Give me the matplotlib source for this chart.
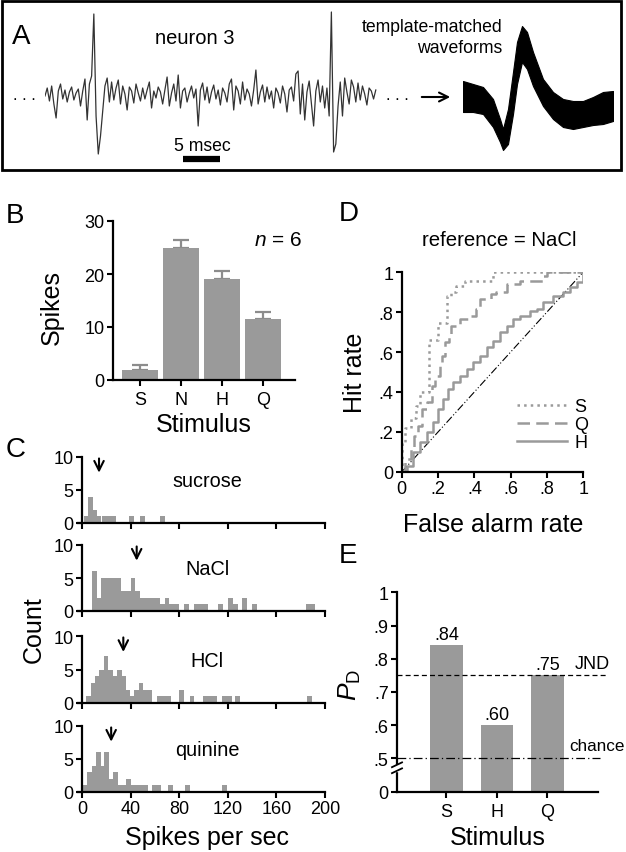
import numpy as np
import matplotlib
matplotlib.use('Agg')
import matplotlib.pyplot as plt
from matplotlib.patches import Rectangle

plt.rcParams['font.family'] = 'Liberation Sans'
plt.rcParams['mathtext.fontset'] = 'custom'
plt.rcParams['mathtext.it'] = 'Liberation Sans:italic'
plt.rcParams['mathtext.rm'] = 'Liberation Sans'

W, H = 626, 853
GRAY = '#9a9a9a'
TICK_FS = 13
LABEL_FS = 18

# ---- panel A: raw trace (arbitrary units, 0.3 ms per sample) ----
trace_uv = [0, 8, -5, 10, -8, -22, 5, 12, -3, 6,
            -6, 4, 9, -4, 3, 7, -10, 5, 17, -24,
            12, 20, 82, -20, -58, -40, -15, 10, 18, -6,
            14, -4, 8, 16, -8, 10, 2, -14, 9, 5,
            -7, 12, 3, -5, 8, -3, 6, 14, -12, 5,
            -2, 9, 4, -8, 6, 19, -10, 3, 12, -5,
            21, -12, 5, 8, -6, 3, 10, -2, 7, -30,
            6, 13, -4, 9, -7, 4, 11, -3, 6, -9,
            8, 3, -6, 12, 17, -14, 10, 5, -8, 14,
            -4, 7, 2, -10, 6, 26, -8, 4, 11, -6,
            9, -3, 5, -12, 8, 3, -7, 10, 2, -16,
            6, 9, -5, 22, 25, -18, 12, -24, 4, 15,
            -8, -30, 5, 16, -6, 10, -12, 8, -20, 84,
            -56, -48, -10, 14, -20, 18, 4, -8, 16, 9,
            -6, 13, -4, 10, 2, -9, 8, 5, -3, 6]
sample_ms = 0.3
scale_bar_ms = 5

# template-matched waveform envelope
wf_t = [0, 0.1, 0.2, 0.3, 0.37, 0.4, 0.45, 0.5, 0.54, 0.59, 0.64, 0.7,
        0.8, 0.9, 1.0, 1.1, 1.2, 1.3, 1.4, 1.5]
wf_hi = [16, 13, 10, -2, -22, -32, -12, 25, 55, 71, 65, 45, 18, 5, -2, -4, -4, 0, 5, 6]
wf_lo = [-15, -15, -17, -30, -45, -53, -47, -17, 13, 35, 28, 11, -9, -22, -30, -32,
         -30, -28, -27, -24]

# ---- panel B ----
stim_b = ['S', 'N', 'H', 'Q']
spikes_mean = [1.9, 25.0, 19.0, 11.6]
spikes_sem = [0.9, 1.5, 1.6, 1.2]

# ---- panel C: histograms (bin left edge in spikes/s, counts) ----
BIN_W = 4.0
hist_names = ['sucrose', 'NaCl', 'HCl', 'quinine']
sucrose_left = [2, 5.3, 8.6, 11.9, 16.2, 20.2, 23.9, 39, 48, 64.6]
sucrose_cnt = [1, 4, 2, 1, 1, 1, 1, 1, 1, 1]
nacl_left = [8, 12, 16, 20, 24, 28, 32, 36, 40, 44, 48, 52, 56, 60, 64, 68, 72, 76,
             84, 92, 96, 100, 112, 120, 124, 132, 140, 184, 188]
nacl_cnt = [6, 2, 5, 5, 5, 5, 3, 3, 5, 3, 2, 2, 2, 2, 1, 2, 1, 1,
            1, 1, 1, 1, 1, 2, 1, 2, 1, 1, 1]
hcl_left = [3.3, 7.0, 10.6, 14.2, 17.8, 21.4, 25.0, 28.6, 32.2, 35.8, 39.4, 43.0,
            46.6, 50.2, 53.8, 62.1, 65.7, 69.3, 80.2, 88.5, 99.5, 103.1, 107,
            115.2, 119.3, 126.2, 185.3]
hcl_cnt = [1, 3, 4, 5, 7, 5, 4, 5, 4, 2, 1, 2, 3, 2, 2, 1, 1, 1, 2, 1, 1, 1, 1,
           1, 1, 1, 1]
quin_left = [1.0, 4.5, 8.0, 11.5, 15.0, 18.5, 22.0, 25.5, 29.0, 32.5, 36.0, 39.5,
             43.0, 46.5, 50.0, 57.5, 61.0, 70.5, 84.5, 115.5]
quin_cnt = [1, 3, 4, 6, 4, 6, 2, 3, 1, 1, 2, 1, 1, 1, 1, 1, 1, 1, 1, 1]
hist_mean = [14, 45, 34, 24]

# ---- panel D: ROC curves vs NaCl ----
S_fa = [0, 0, 0.02, 0.02, 0.05, 0.05, 0.08, 0.08, 0.10, 0.10, 0.15, 0.15, 0.20,
        0.20, 0.25, 0.25, 0.27, 0.30, 0.35, 0.50, 0.50, 1.0]
S_hit = [0, 0.15, 0.15, 0.22, 0.22, 0.27, 0.27, 0.33, 0.33, 0.40, 0.40, 0.66, 0.66,
         0.745, 0.745, 0.88, 0.90, 0.93, 0.955, 0.955, 1.0, 1.0]
Q_fa = [0, 0.02, 0.05, 0.065, 0.09, 0.11, 0.14, 0.165, 0.185, 0.21, 0.22, 0.24,
        0.26, 0.27, 0.32, 0.37, 0.41, 0.43, 0.49, 0.52, 0.58, 0.65, 0.78, 0.80, 1.0]
Q_hit = [0, 0.065, 0.115, 0.18, 0.23, 0.315, 0.35, 0.43, 0.48, 0.53, 0.58, 0.65,
         0.68, 0.73, 0.765, 0.78, 0.815, 0.865, 0.89, 0.90, 0.94, 0.957, 0.98, 1.0, 1.0]
H_fa = [0, 0.028, 0.064, 0.101, 0.138, 0.174, 0.202, 0.23, 0.257, 0.284, 0.321, 0.358,
        0.395, 0.431, 0.468, 0.505, 0.541, 0.578, 0.615, 0.651, 0.706, 0.743, 0.78,
        0.835, 0.89, 0.927, 0.963, 1.0]
H_hit = [0, 0.032, 0.098, 0.148, 0.198, 0.248, 0.315, 0.365, 0.415, 0.448, 0.48,
         0.515, 0.548, 0.58, 0.623, 0.657, 0.698, 0.73, 0.765, 0.78, 0.807, 0.815,
         0.848, 0.88, 0.9, 0.923, 0.948, 1.0]

# ---- panel E ----
stim_e = ['S', 'H', 'Q']
pd_vals = [0.84, 0.60, 0.75]
jnd = 0.75
chance = 0.5

fig = plt.figure(figsize=(W / 100, H / 100), dpi=100)


def add_ax(x0, y0, x1, y1):
    ax = fig.add_axes([x0 / W, 1 - y1 / H, (x1 - x0) / W, (y1 - y0) / H])
    ax.patch.set_visible(False)
    return ax


def style(ax):
    for s in ['top', 'right']:
        ax.spines[s].set_visible(False)
    for s in ['left', 'bottom']:
        ax.spines[s].set_linewidth(1.6)
    ax.tick_params(direction='out', length=4, width=1.5, labelsize=TICK_FS, pad=2)


# overlay in pixel coordinates for frame and labels
ov = fig.add_axes([0, 0, 1, 1])
ov.set_xlim(0, W)
ov.set_ylim(H, 0)
ov.axis('off')
ov.set_zorder(10)
ov.add_patch(Rectangle((2, 2), 619, 169, fill=False, lw=2, ec='k'))
for lab, x, y in [('A', 21, 37), ('B', 15, 216), ('C', 16, 450), ('D', 349, 214), ('E', 348, 556)]:
    ov.text(x, y, lab, fontsize=20, ha='center', va='center')
ov.text(195, 38, 'neuron 3', fontsize=14.5, ha='center', va='center')
ov.text(502, 27, 'template-matched', fontsize=12.7, ha='right', va='center')
ov.text(502, 48, 'waveforms', fontsize=12.7, ha='right', va='center')
ov.text(24, 95, '. . .', fontsize=12, ha='center', va='center')
ov.text(397, 95, '. . .', fontsize=12, ha='center', va='center')
ov.annotate('', xy=(453, 98), xytext=(419, 98),
            arrowprops=dict(arrowstyle='->', lw=1.5, color='k', mutation_scale=16))
ov.text(202, 146, '5 msec', fontsize=12.7, ha='center', va='center')
ov.text(278, 240, r'$n$ = 6', fontsize=15, ha='center', va='center')
ov.text(52, 307, 'Spikes', fontsize=LABEL_FS, rotation=90, ha='center', va='center')
ov.text(204, 425, 'Stimulus', fontsize=LABEL_FS, ha='center', va='center')
ov.text(34, 630, 'Count', fontsize=LABEL_FS, rotation=90, ha='center', va='center')
ov.text(207, 838, 'Spikes per sec', fontsize=LABEL_FS, ha='center', va='center')
ov.text(499, 240, 'reference = NaCl', fontsize=14.7, ha='center', va='center')
ov.text(355, 373, 'Hit rate', fontsize=LABEL_FS, rotation=90, ha='center', va='center')
ov.text(493, 525, 'False alarm rate', fontsize=LABEL_FS, ha='center', va='center')
ov.text(350, 685, r'$P_\mathrm{D}$', fontsize=19, rotation=90, ha='center', va='center')
ov.text(498, 838, 'Stimulus', fontsize=LABEL_FS, ha='center', va='center')

# ---- A: trace ----
ax_tr = add_ax(45, 10, 378, 165)
t = np.arange(len(trace_uv)) * sample_ms
ax_tr.plot(t, trace_uv, color='#333333', lw=0.9)
ax_tr.plot([18.7, 18.7 + scale_bar_ms], [-63, -63], color='k', lw=4.5, solid_capstyle='butt')
ax_tr.set_xlim(0, 45)
ax_tr.set_ylim(-68, 87)
ax_tr.axis('off')

ax_wf = add_ax(463, 10, 613, 165)
ax_wf.fill_between(wf_t, wf_lo, wf_hi, color='k', lw=0.8)
ax_wf.set_xlim(0, 1.5)
ax_wf.set_ylim(-67, 88)
ax_wf.axis('off')

# ---- B ----
axB = add_ax(113, 222, 295, 381)
xb = np.arange(len(stim_b))
axB.bar(xb, spikes_mean, width=0.88, color=GRAY, zorder=2)
axB.errorbar(xb, spikes_mean, yerr=[np.zeros(len(xb)), spikes_sem], fmt='none',
             ecolor='#8c8c8c', elinewidth=1.6, capsize=6, capthick=1.6, zorder=1)
axB.set_xlim(-0.66, 3.78)
axB.set_ylim(0, 30)
axB.set_yticks([0, 10, 20, 30])
axB.set_xticks(xb)
axB.set_xticklabels(stim_b)
style(axB)
axB.tick_params(axis='x', pad=4)

# ---- C ----
hist_rows = [(458, 524), (546, 612), (637, 704), (727, 793)]
hist_data = [(sucrose_left, sucrose_cnt), (nacl_left, nacl_cnt),
             (hcl_left, hcl_cnt), (quin_left, quin_cnt)]
for i, (name, (y0, y1), (lefts, cnts), m) in enumerate(zip(hist_names, hist_rows, hist_data, hist_mean)):
    ax = add_ax(78, y0, 325, y1)
    ax.bar(lefts, cnts, width=BIN_W, align='edge', color=GRAY, lw=0)
    ax.set_xlim(-3.3, 200)
    ax.set_ylim(0, 10)
    ax.spines['left'].set_position(('data', 0))
    ax.set_yticks([0, 5, 10])
    ax.set_xticks([0, 40, 80, 120, 160, 200])
    style(ax)
    if i < 3:
        ax.set_xticklabels([])
    ax.annotate('', xy=(m, 7.2), xytext=(m, 10.2),
                arrowprops=dict(arrowstyle='->', lw=1.5, color='k', mutation_scale=17))
    ax.text(103, 6.4, name, fontsize=14.3, ha='center', va='center')

# ---- D ----
axD = add_ax(401.7, 273, 583.3, 473)
axD.plot([0, 1], [0, 1], color='k', lw=0.8, dashes=(7, 2, 1, 2, 1, 2))
axD.plot(S_fa, S_hit, color=GRAY, lw=1.8, ls=':', label='S', drawstyle='steps-post')
axD.plot(Q_fa, Q_hit, color=GRAY, lw=1.8, dashes=(5, 2.5), label='Q', drawstyle='steps-post')
axD.plot(H_fa, H_hit, color=GRAY, lw=1.8, label='H', drawstyle='steps-post')
axD.set_xlim(0, 1)
axD.set_ylim(0, 1)
ticks = [0, 0.2, 0.4, 0.6, 0.8, 1]
tlabs = ['0', '.2', '.4', '.6', '.8', '1']
axD.set_xticks(ticks)
axD.set_xticklabels(tlabs)
axD.set_yticks(ticks)
axD.set_yticklabels(tlabs)
style(axD)
leg = axD.legend(loc='lower left', bbox_to_anchor=(0.635, 0.105), frameon=False,
                 fontsize=13, handlelength=2.76, handletextpad=0.4, labelspacing=0.05,
                 borderpad=0, borderaxespad=0)

# ---- E ----
axE = add_ax(397, 593.3, 598, 792.7)
xe = np.arange(len(stim_e))
axE.bar(xe, pd_vals, width=0.65, color=GRAY, zorder=2)
for x, v in zip(xe, pd_vals):
    axE.text(x, v + 0.008, ('%.2f' % v).lstrip('0'), ha='center', va='bottom', fontsize=13)
axE.axhline(jnd, xmin=0, xmax=1.045, color='k', lw=0.9, dashes=(4, 2.5), clip_on=False, zorder=3)
axE.axhline(chance, xmin=0, xmax=1.01, color='k', lw=0.9, dashes=(7, 2.5, 1, 2.5), clip_on=False, zorder=3)
axE.text(2.53, 0.785, 'JND', fontsize=13, va='center', ha='left', clip_on=False)
axE.text(2.44, 0.538, 'chance', fontsize=12.3, va='center', ha='left', clip_on=False)
axE.set_xlim(-0.98, 3.0)
axE.set_ylim(0.4, 1.0)
axE.set_yticks([0.4, 0.5, 0.6, 0.7, 0.8, 0.9, 1.0])
axE.set_yticklabels(['0', '.5', '.6', '.7', '.8', '.9', '1'])
axE.set_xticks(xe)
axE.set_xticklabels(stim_e)
style(axE)
axE.tick_params(axis='x', pad=4)
# axis break marks
axE.add_patch(Rectangle((-0.03, 0.105), 0.06, 0.03, transform=axE.transAxes,
                        color='white', clip_on=False, zorder=5))
for yb in (0.105, 0.135):
    axE.plot([-0.025, 0.025], [yb - 0.012, yb + 0.012], transform=axE.transAxes,
             color='k', lw=1.3, clip_on=False, zorder=6)

fig.savefig('out.png', dpi=100)
